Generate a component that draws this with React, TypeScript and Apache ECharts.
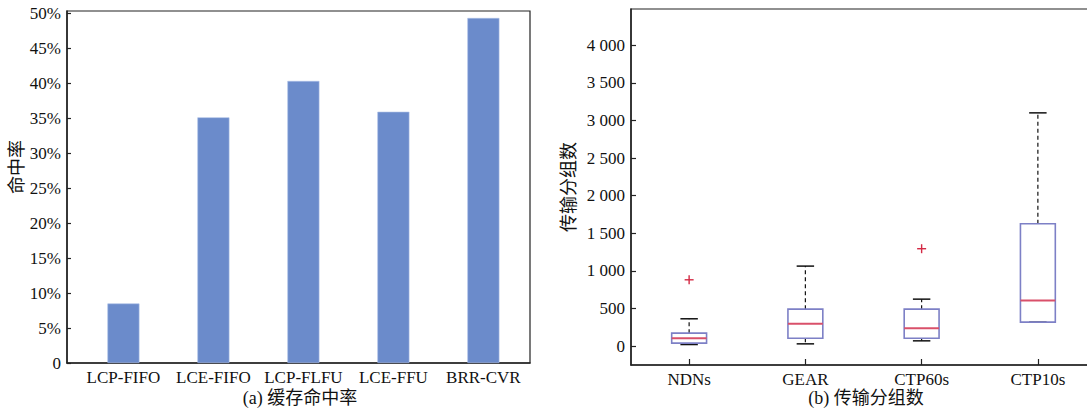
import React, { useEffect, useRef } from "react";
import * as echarts from "echarts";

const hitCategories = ["LCP-FIFO", "LCE-FIFO", "LCP-FLFU", "LCE-FFU", "BRR-CVR"];
const hitRates = [8.5, 35.1, 40.3, 35.9, 49.3];
const hitTicks = [0, 5, 10, 15, 20, 25, 30, 35, 40, 45, 50];

const boxCategories = ["NDNs", "GEAR", "CTP60s", "CTP10s"];
const boxMin = [22, 31, 71, 319];
const boxQ1 = [40, 106, 106, 319];
const boxMedian = [106, 297, 239, 607];
const boxQ3 = [173, 492, 492, 1627];
const boxMax = [364, 1064, 625, 3100];
const outlierCats = [0, 2];
const outlierValues = [882, 1295];
const packetTicks = [0, 500, 1000, 1500, 2000, 2500, 3000, 3500, 4000];

const FONT = "'Liberation Serif', 'Times New Roman', 'Noto Sans CJK SC', serif";
const CJK = "'Liberation Serif', 'Noto Sans CJK SC', serif";
const TXT = "#111";
const AX = "#222";

function fmtThousands(v: number): string {
  if (v >= 1000) {
    const th = Math.floor(v / 1000);
    const rest = String(v % 1000).padStart(3, "0");
    return th + " " + rest;
  }
  return String(v);
}

export default function App() {
  const ref = useRef<HTMLDivElement>(null);
  useEffect(() => {
    if (!ref.current) return;
    const chart = echarts.init(ref.current, undefined, { renderer: "svg" });
    const barData = hitRates.map((v, i) => [i + 1, v]);
    const boxData = boxCategories.map((_, i) => [i, boxMin[i], boxQ1[i], boxMedian[i], boxQ3[i], boxMax[i]]);
    const outData = outlierCats.map((c, i) => [c, outlierValues[i]]);

    const option: any = {
      animation: false,
      backgroundColor: "#fff",
      textStyle: { fontFamily: FONT },
      grid: [
        { left: 67, top: 11, width: 463, height: 352, show: true, borderColor: AX, borderWidth: 1.2, backgroundColor: "transparent" },
        { left: 631, top: 9, width: 465, height: 356, show: true, borderColor: AX, borderWidth: 1.2, backgroundColor: "transparent" },
      ],
      xAxis: [
        {
          type: "value",
          gridIndex: 0,
          min: 0.373,
          max: 5.518,
          splitLine: { show: false },
          axisLine: { show: true, lineStyle: { color: AX, width: 1.5 } },
          axisTick: { show: false },
          axisLabel: {
            customValues: [1, 2, 3, 4, 5],
            formatter: (v: number) => hitCategories[Math.round(v) - 1] ?? "",
            fontFamily: FONT,
            fontSize: 17,
            color: TXT,
            margin: 6,
          },
        },
        {
          type: "category",
          gridIndex: 1,
          data: boxCategories,
          boundaryGap: true,
          axisLine: { show: true, onZero: false, lineStyle: { color: AX, width: 1.5 } },
          axisTick: { show: true, inside: true, alignWithLabel: true, length: 6, lineStyle: { color: AX, width: 1.2 } },
          axisLabel: { fontFamily: FONT, fontSize: 17, color: TXT, margin: 6 },
          splitLine: { show: false },
        },
      ],
      yAxis: [
        {
          type: "value",
          gridIndex: 0,
          min: 0,
          max: 50.3,
          splitLine: { show: false },
          axisLine: { show: true, lineStyle: { color: AX, width: 1.5 } },
          axisTick: { show: true, inside: true, length: 4, customValues: hitTicks, lineStyle: { color: AX, width: 1.2 } },
          axisLabel: {
            customValues: hitTicks,
            formatter: (v: number) => (v === 0 ? "0" : v + "%"),
            fontFamily: FONT,
            fontSize: 17,
            color: TXT,
            margin: 6,
          },
        },
        {
          type: "value",
          gridIndex: 1,
          min: -250,
          max: 4480,
          splitLine: { show: false },
          axisLine: { show: true, lineStyle: { color: AX, width: 1.5 } },
          axisTick: { show: true, inside: true, length: 5, customValues: packetTicks, lineStyle: { color: AX, width: 1.2 } },
          axisLabel: {
            customValues: packetTicks,
            formatter: (v: number) => fmtThousands(v),
            fontFamily: FONT,
            fontSize: 17,
            color: TXT,
            margin: 6,
          },
        },
      ],
      series: [
        {
          type: "bar",
          xAxisIndex: 0,
          yAxisIndex: 0,
          data: barData,
          barWidth: 32,
          itemStyle: { color: "#6b8bcb", borderColor: "#a9bde6", borderWidth: 0.6 },
        },
        {
          type: "custom",
          xAxisIndex: 1,
          yAxisIndex: 1,
          data: boxData,
          encode: { x: 0, y: [1, 2, 3, 4, 5] },
          renderItem: (params: any, api: any) => {
            const x = api.value(0);
            const lo = api.coord([x, api.value(1)]);
            const q1 = api.coord([x, api.value(2)]);
            const med = api.coord([x, api.value(3)]);
            const q3 = api.coord([x, api.value(4)]);
            const hi = api.coord([x, api.value(5)]);
            const band = api.size([1, 0])[0];
            const bw = band * 0.3;
            const cw = band * 0.15;
            const cx = lo[0];
            const dash = { stroke: "#111", lineWidth: 1.2, lineDash: [4, 3] };
            const cap = { stroke: "#111", lineWidth: 1.5 };
            return {
              type: "group",
              children: [
                { type: "line", shape: { x1: cx, y1: q3[1], x2: cx, y2: hi[1] }, style: dash },
                { type: "line", shape: { x1: cx, y1: q1[1], x2: cx, y2: lo[1] }, style: dash },
                { type: "line", shape: { x1: cx - cw / 2, y1: hi[1], x2: cx + cw / 2, y2: hi[1] }, style: cap },
                { type: "line", shape: { x1: cx - cw / 2, y1: lo[1], x2: cx + cw / 2, y2: lo[1] }, style: cap },
                {
                  type: "rect",
                  shape: { x: cx - bw / 2, y: q3[1], width: bw, height: q1[1] - q3[1] },
                  style: { fill: "none", stroke: "#7d80c6", lineWidth: 1.6 },
                },
                {
                  type: "line",
                  shape: { x1: cx - bw / 2, y1: med[1], x2: cx + bw / 2, y2: med[1] },
                  style: { stroke: "#d9506a", lineWidth: 2 },
                },
              ],
            };
          },
        },
        {
          type: "custom",
          xAxisIndex: 1,
          yAxisIndex: 1,
          data: outData,
          encode: { x: 0, y: 1 },
          renderItem: (params: any, api: any) => {
            const p = api.coord([api.value(0), api.value(1)]);
            const s = 4.5;
            const st = { stroke: "#d42a45", lineWidth: 1.4 };
            return {
              type: "group",
              children: [
                { type: "line", shape: { x1: p[0] - s, y1: p[1], x2: p[0] + s, y2: p[1] }, style: st },
                { type: "line", shape: { x1: p[0], y1: p[1] - s, x2: p[0], y2: p[1] + s }, style: st },
              ],
            };
          },
        },
      ],
      graphic: [
        {
          type: "text",
          x: 17,
          y: 167,
          rotation: Math.PI / 2,
          style: { text: "命中率", font: `18px ${CJK}`, fill: TXT, textAlign: "center", textVerticalAlign: "middle" },
        },
        {
          type: "text",
          x: 569,
          y: 187,
          rotation: Math.PI / 2,
          style: { text: "传输分组数", font: `18px ${CJK}`, fill: TXT, textAlign: "center", textVerticalAlign: "middle" },
        },
        {
          type: "text",
          x: 300,
          y: 398,
          style: { text: "(a) 缓存命中率", font: `18px ${CJK}`, fill: TXT, textAlign: "center", textVerticalAlign: "middle" },
        },
        {
          type: "text",
          x: 866,
          y: 398,
          style: { text: "(b) 传输分组数", font: `18px ${CJK}`, fill: TXT, textAlign: "center", textVerticalAlign: "middle" },
        },
      ],
    };
    chart.setOption(option);
    return () => chart.dispose();
  }, []);
  return (
    <div
      ref={ref}
      style={{ position: "fixed", left: 0, top: 0, width: 1100, height: 408, background: "#fff" }}
    />
  );
}
